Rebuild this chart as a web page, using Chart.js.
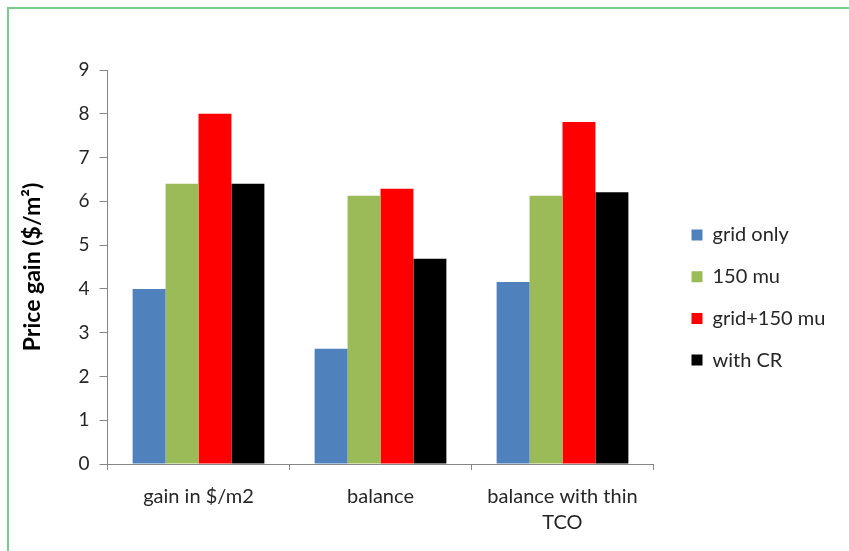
<!DOCTYPE html>
<html>
<head>
<meta charset="utf-8">
<title>Price gain</title>
<script src="https://cdn.jsdelivr.net/npm/chart.js@4/dist/chart.umd.min.js"></script>
<style>
  html, body { margin: 0; padding: 0; background: #ffffff; }
  #wrap { position: relative; width: 849px; height: 551px; overflow: hidden; }
  #frame {
    position: absolute; left: 7px; top: 7px; width: 900px; height: 600px;
    border-left: 2px solid #7ccb8b; border-top: 2px solid #7ccb8b;
    box-sizing: border-box;
  }
  #chart { position: absolute; left: 0; top: 0; }
</style>
</head>
<body>
<div id="wrap">
  <div id="frame"></div>
  <canvas id="chart" width="849" height="551"></canvas>
</div>
<script>
// Categories along the x axis (the last one wraps onto two lines)
const categories = ['gain in $/m2', 'balance', ['balance with thin', 'TCO']];

// Price gain per configuration, in $/m²
const gridOnly   = [4.0, 2.63, 4.16];
const mu150      = [6.4, 6.13, 6.13];
const gridMu150  = [8.0, 6.29, 7.81];
const withCR     = [6.4, 4.69, 6.21];

const seriesNames = ['grid only', '150 mu', 'grid+150 mu', 'with CR'];

// Value axis range
const yMin = 0;
const yMax = 9;
const yStep = 1;

const axisGray = '#868686';
const textColor = '#262626';
const fontFamily = 'Lato, "Noto Sans", sans-serif';
const labelFont = { family: fontFamily, size: 20 };
const tickFont = { family: fontFamily, size: 19 };

// Moves the right-hand legend so its column sits a little away from the plot
const legendPlacement = {
  id: 'legendPlacement',
  afterLayout(chart) {
    const lg = chart.legend;
    if (!lg) return;
    const pad = lg.options.labels.padding;
    const dx = 38 - (lg.left - chart.chartArea.right) - pad;
    const dy = 225 - pad - lg.top;
    lg.left += dx; lg.right += dx;
    lg.top += dy; lg.bottom += dy;
  }
};

new Chart(document.getElementById('chart'), {
  type: 'bar',
  data: {
    labels: categories,
    datasets: [
      { label: seriesNames[0], data: gridOnly,  backgroundColor: '#4f81bd' },
      { label: seriesNames[1], data: mu150,     backgroundColor: '#9bbb59' },
      { label: seriesNames[2], data: gridMu150, backgroundColor: '#ff0000' },
      { label: seriesNames[3], data: withCR,    backgroundColor: '#000000' }
    ]
  },
  options: {
    responsive: false,
    animation: false,
    devicePixelRatio: 1,
    datasets: {
      bar: { categoryPercentage: 0.724, barPercentage: 1.0, borderWidth: 0 }
    },
    layout: { padding: { top: 70, right: 30, bottom: 0, left: 0 } },
    plugins: {
      tooltip: { enabled: false },
      legend: {
        position: 'right',
        align: 'start',
        labels: {
          boxWidth: 11,
          boxHeight: 11,
          padding: 21.7,
          color: textColor,
          font: labelFont
        }
      }
    },
    scales: {
      x: {
        grid: {
          offset: true,
          drawOnChartArea: false,
          drawTicks: true,
          tickLength: 6,
          color: axisGray
        },
        border: { color: axisGray, width: 1 },
        ticks: {
          color: textColor,
          font: Object.assign({}, labelFont, { lineHeight: 1.3 }),
          padding: 14,
          maxRotation: 0,
          autoSkip: false
        },
        afterFit(scale) { scale.height = 87; }
      },
      y: {
        min: yMin,
        max: yMax,
        grid: {
          drawOnChartArea: false,
          drawTicks: true,
          tickLength: 8,
          color: axisGray
        },
        border: { color: axisGray, width: 1 },
        ticks: {
          stepSize: yStep,
          color: textColor,
          font: tickFont,
          padding: 10
        },
        title: {
          display: true,
          text: 'Price gain ($/m²)',
          color: '#000000',
          font: { family: fontFamily, size: 23, weight: 'bold' },
          padding: { top: 19, bottom: 0 }
        },
        afterFit(scale) { scale.width = 107.5; }
      }
    }
  },
  plugins: [legendPlacement]
});
</script>
</body>
</html>
